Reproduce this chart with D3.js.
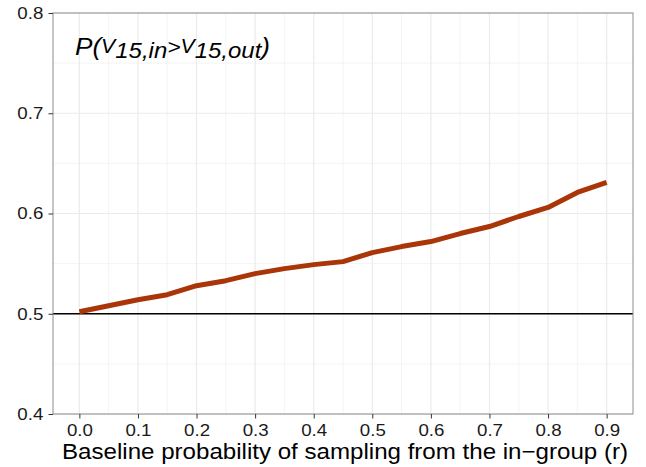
<!DOCTYPE html>
<html>
<head>
<meta charset="utf-8">
<script src="https://cdn.jsdelivr.net/npm/d3@7"></script>
<style>
  body { margin: 0; background: #fff; }
  svg { font-family: "Liberation Sans", Arial, sans-serif; }
</style>
</head>
<body>
<script>
// baseline probability r
const rValues = [0, 0.05, 0.1, 0.15, 0.2, 0.25, 0.3, 0.35, 0.4, 0.45, 0.5, 0.55, 0.6, 0.65, 0.7, 0.75, 0.8, 0.85, 0.9];
// P(V15,in > V15,out)
const pValues = [0.502, 0.508, 0.514, 0.519, 0.528, 0.533, 0.540, 0.545, 0.549, 0.552, 0.561, 0.567, 0.572, 0.580, 0.587, 0.597, 0.606, 0.621, 0.631];
const xTicks = [0, 0.1, 0.2, 0.3, 0.4, 0.5, 0.6, 0.7, 0.8, 0.9];
const yTicks = [0.4, 0.5, 0.6, 0.7, 0.8];
const xMinor = [0.05, 0.15, 0.25, 0.35, 0.45, 0.55, 0.65, 0.75, 0.85];
const yMinor = [0.45, 0.55, 0.65, 0.75];

const width = 646, height = 467;
const margin = {top: 13, right: 13, bottom: 53, left: 53};

const svg = d3.select('body').append('svg')
  .attr('width', width)
  .attr('height', height);

const x = d3.scaleLinear()
  .domain([-0.045, 0.945])
  .range([margin.left, width - margin.right]);
const y = d3.scaleLinear()
  .domain([0.4, 0.8])
  .range([height - margin.bottom, margin.top]);

const g = svg.append('g');

// minor grid
g.selectAll('.xminor').data(xMinor).enter().append('line')
  .attr('x1', d => x(d)).attr('x2', d => x(d))
  .attr('y1', y(0.4)).attr('y2', y(0.8))
  .attr('stroke', '#f4f4f4').attr('stroke-width', 1);
g.selectAll('.yminor').data(yMinor).enter().append('line')
  .attr('y1', d => y(d)).attr('y2', d => y(d))
  .attr('x1', x.range()[0]).attr('x2', x.range()[1])
  .attr('stroke', '#f4f4f4').attr('stroke-width', 1);
// major grid
g.selectAll('.xmajor').data(xTicks).enter().append('line')
  .attr('x1', d => x(d)).attr('x2', d => x(d))
  .attr('y1', y(0.4)).attr('y2', y(0.8))
  .attr('stroke', '#ebebeb').attr('stroke-width', 1.2);
g.selectAll('.ymajor').data(yTicks).enter().append('line')
  .attr('y1', d => y(d)).attr('y2', d => y(d))
  .attr('x1', x.range()[0]).attr('x2', x.range()[1])
  .attr('stroke', '#ebebeb').attr('stroke-width', 1.2);

// reference line at 0.5
g.append('line')
  .attr('x1', x.range()[0]).attr('x2', x.range()[1])
  .attr('y1', y(0.5)).attr('y2', y(0.5))
  .attr('stroke', '#000').attr('stroke-width', 1.3);

const line = d3.line()
  .x((d, i) => x(rValues[i]))
  .y(d => y(d));

g.append('path')
  .datum(pValues)
  .attr('d', line)
  .attr('fill', 'none')
  .attr('stroke', '#aa3508')
  .attr('stroke-width', 5)
  .attr('stroke-linejoin', 'round');

// panel border
g.append('rect')
  .attr('x', x.range()[0]).attr('y', y(0.8))
  .attr('width', x.range()[1] - x.range()[0])
  .attr('height', y(0.4) - y(0.8))
  .attr('fill', 'none').attr('stroke', '#8c8c8c').attr('stroke-width', 1);

// axes
const xAxis = svg.append('g')
  .attr('transform', 'translate(0,' + y(0.4) + ')')
  .call(d3.axisBottom(x).tickValues(xTicks).tickFormat(d3.format('.1f')).tickSize(4.5).tickPadding(5.5));
const yAxis = svg.append('g')
  .attr('transform', 'translate(' + x.range()[0] + ',0)')
  .call(d3.axisLeft(y).tickValues(yTicks).tickFormat(d3.format('.1f')).tickSize(4.5).tickPadding(5.2));

[xAxis, yAxis].forEach(a => {
  a.attr('font-size', 17).attr('font-family', '"Liberation Sans", Arial, sans-serif');
  a.select('.domain').remove();
  a.selectAll('.tick line').attr('stroke', '#333');
  a.selectAll('.tick text').attr('fill', '#1a1a1a')
    .attr('textLength', 26)
    .attr('lengthAdjust', 'spacingAndGlyphs');
});

svg.append('text')
  .attr('x', (x.range()[0] + x.range()[1]) / 2 + 2)
  .attr('y', 459)
  .attr('text-anchor', 'middle')
  .attr('font-size', 22)
  .attr('textLength', 566)
  .attr('lengthAdjust', 'spacingAndGlyphs')
  .attr('fill', '#000')
  .text('Baseline probability of sampling from the in\u2212group (r)');

// annotation label
const lab = svg.append('text')
  .attr('x', 75).attr('y', 55)
  .attr('textLength', 195)
  .attr('lengthAdjust', 'spacingAndGlyphs')
  .style('font-style', 'italic')
  .attr('fill', '#000');
lab.append('tspan').attr('font-size', 24).text('P(');
lab.append('tspan').attr('font-size', 19.5).attr('dy', -1.7).text('V');
lab.append('tspan').attr('font-size', 22).attr('dy', 5).text('15,in');
lab.append('tspan').attr('font-size', 21).attr('dy', -4.5).text('>');
lab.append('tspan').attr('font-size', 19.5).attr('dy', -0.5).text('V');
lab.append('tspan').attr('font-size', 22).attr('dy', 5).text('15,out');
lab.append('tspan').attr('font-size', 24).attr('dy', -3.3).text(')');
</script>
</body>
</html>
